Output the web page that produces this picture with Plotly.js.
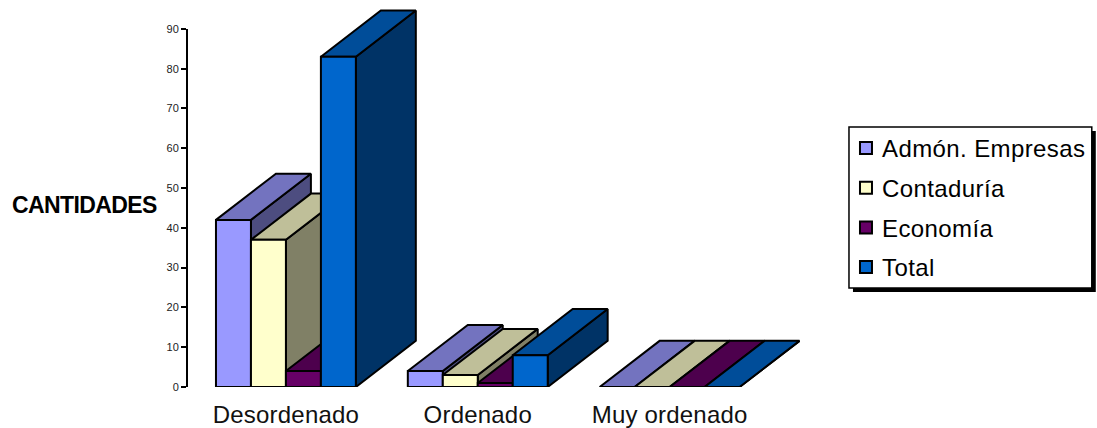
<!DOCTYPE html>
<html>
<head>
<meta charset="utf-8">
<script src="https://cdn.plot.ly/plotly-3.0.1.min.js"></script>
<style>
html,body{margin:0;padding:0;background:#fff;}
#chart{width:1097px;height:428px;}
.legend .legendtext{letter-spacing:.4px;}
.legend .scatterpts{transform:translate(24px,0);}
.xtick text{letter-spacing:.2px;}
.annotation-text{letter-spacing:-.6px;}
</style>
</head>
<body>
<div id="chart"></div>
<script>
const categories = ["Desordenado", "Ordenado", "Muy ordenado"];
const seriesNames = ["Admón. Empresas", "Contaduría", "Economía", "Total"];
const admon = [42, 4, 0];
const contaduria = [37, 3, 0];
const economia = [4, 1, 0];
const total = [83, 8, 0];
const tickValues = [0, 10, 20, 30, 40, 50, 60, 70, 80, 90];
const frontColors = ["#9999FF", "#FFFFCC", "#660066", "#0066CC"];
const topColors = ["#7373BF", "#BFBF99", "#4D004D", "#004D99"];
const sideColors = ["#4D4D80", "#808066", "#330033", "#003366"];
const seriesValues = [admon, contaduria, economia, total];

const W = 1097, H = 428;
const unitPx = 358 / 90, yMax = 96;
const plotL = 187.5, plotR = 820, plotB = 387, plotT = plotB - yMax * unitPx;
const barW = 0.1823, depthX = 0.3125, depthY = 11.6;
const groupStart = c => c - 2 * barW;
const px = v => (v - plotL) / (plotR - plotL);
const py = v => (plotB - v) / (plotB - plotT);
const edge = {color: "#000", width: 2};

function face(points, color) {
  const x = [], y = [];
  points.forEach(poly => {
    poly.forEach(p => { x.push(p[0]); y.push(p[1]); });
    x.push(poly[0][0]); y.push(poly[0][1]);
    x.push(null); y.push(null);
  });
  return {x, y, type: "scatter", mode: "lines", fill: "toself", fillcolor: color,
          line: {color: edge.color, width: edge.width, simplify: false}, cliponaxis: false,
          showlegend: false, hoverinfo: "skip", connectgaps: false};
}

const traces = [];
seriesValues.forEach((vals, s) => {
  const fronts = [], tops = [], sides = [];
  vals.forEach((v, c) => {
    const x0 = groupStart(c) + s * barW, x1 = x0 + barW;
    fronts.push([[x0, 0], [x1, 0], [x1, v], [x0, v]]);
    tops.push([[x0, v], [x1, v], [x1 + depthX, v + depthY], [x0 + depthX, v + depthY]]);
    sides.push([[x1, 0], [x1 + depthX, depthY], [x1 + depthX, v + depthY], [x1, v]]);
  });
  traces.push(face(sides, sideColors[s]));
  traces.push(face(tops, topColors[s]));
  traces.push(face(fronts, frontColors[s]));
});
seriesNames.forEach((name, s) => {
  traces.push({x: [null], y: [null], yaxis: "y2", type: "scatter", mode: "markers", name,
    legendgroup: name, hoverinfo: "skip",
    marker: {symbol: "square", size: 12, color: frontColors[s], line: {color: "#000", width: 2}}});
});

const layout = {
  width: W, height: H,
  margin: {l: plotL, r: W - plotR, t: plotT, b: H - plotB, pad: 0, autoexpand: false},
  paper_bgcolor: "#fff", plot_bgcolor: "rgba(0,0,0,0)",
  hovermode: false,
  font: {family: "Liberation Sans, Arial, sans-serif", color: "#000"},
  xaxis: {
    range: [(plotL - 285.5) / 192, (plotR - 285.5) / 192],
    tickmode: "array", tickvals: [0, 1, 2], ticktext: categories,
    showgrid: false, zeroline: false, showline: false, ticks: "",
    tickfont: {size: 24, color: "#111"}, ticklabelstandoff: 11, fixedrange: true
  },
  yaxis: {
    range: [0, yMax], visible: false, fixedrange: true
  },
  yaxis2: {
    range: [0, 90], domain: [0, 90 / yMax], anchor: "x",
    tickmode: "array", tickvals: tickValues,
    showgrid: false, zeroline: false, showline: true, linecolor: "#000", linewidth: 2,
    ticks: "outside", ticklen: 5, tickwidth: 2, tickcolor: "#000",
    tickfont: {size: 11, color: "#222"}, ticklabelstandoff: 0, fixedrange: true
  },
  annotations: [{
    text: "<b>CANTIDADES</b>", xref: "paper", yref: "paper",
    x: px(83.5), y: py(205), xanchor: "center", yanchor: "middle", showarrow: false,
    font: {size: 23, color: "#000"}
  }],
  shapes: [
    {type: "rect", xref: "paper", yref: "paper", x0: px(853), x1: px(1096), y0: py(131), y1: py(292),
     fillcolor: "#000", line: {width: 0}},
    {type: "rect", xref: "paper", yref: "paper", x0: px(849), x1: px(1092), y0: py(127), y1: py(288),
     fillcolor: "#fff", line: {color: "#000", width: 1.5}}
  ],
  legend: {
    x: px(842), y: py(126), xanchor: "left", yanchor: "top",
    bgcolor: "rgba(0,0,0,0)", borderwidth: 0, itemclick: false, itemdoubleclick: false,
    traceorder: "grouped", tracegroupgap: 5.5,
    font: {size: 24, color: "#000"}
  },
  showlegend: true
};

Plotly.newPlot("chart", traces, layout, {displayModeBar: false, staticPlot: true});
</script>
</body>
</html>
